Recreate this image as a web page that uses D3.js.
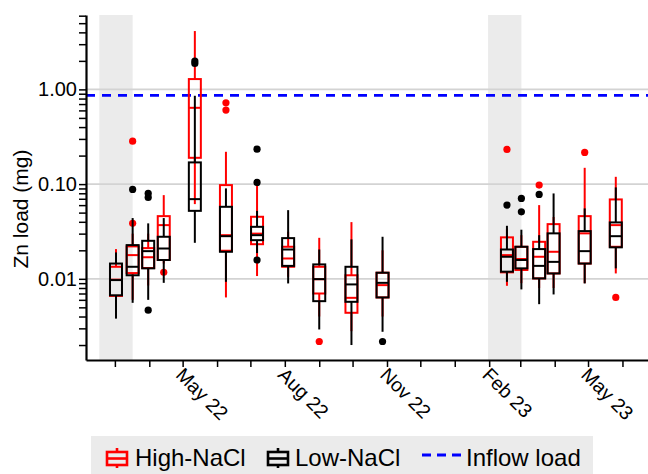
<!DOCTYPE html>
<html>
<head>
<meta charset="utf-8">
<script src="https://cdnjs.cloudflare.com/ajax/libs/d3/7.8.5/d3.min.js"></script>
<style>
  body { margin: 0; background: #fff; }
  svg { display: block; font-family: "Liberation Sans", Arial, sans-serif; }
</style>
</head>
<body>
<div id="chart"></div>
<script>
// sampling dates (one box pair per date)
var sampleDates = ["2022-03-02", "2022-03-17", "2022-03-31", "2022-04-14", "2022-05-12",
  "2022-06-09", "2022-07-07", "2022-08-04", "2022-09-01", "2022-09-30", "2022-10-28",
  "2023-02-17", "2023-03-02", "2023-03-18", "2023-03-31", "2023-04-28", "2023-05-26"];

// box stats per date: [whisker low, q1, median, q3, whisker high], Zn load in mg
var highStats = [
  [0.0040, 0.0066, 0.0098, 0.0134, 0.0206],
  [0.0060, 0.0115, 0.0178, 0.0220, 0.0300],
  [0.0085, 0.0130, 0.0169, 0.0211, 0.0300],
  [0.0145, 0.0158, 0.0369, 0.0459, 0.0765],
  [0.0615, 0.1895, 0.639, 1.285, 4.13],
  [0.00636, 0.0198, 0.0289, 0.0976, 0.2194],
  [0.0107, 0.0232, 0.0300, 0.0452, 0.0976],
  [0.0105, 0.0134, 0.0164, 0.0218, 0.0314],
  [0.0040, 0.0070, 0.0099, 0.0134, 0.0271],
  [0.0028, 0.00438, 0.0063, 0.0109, 0.0397],
  [0.0040, 0.00636, 0.00858, 0.0116, 0.0200],
  [0.00844, 0.0117, 0.0178, 0.0274, 0.0340],
  [0.0090, 0.0124, 0.0162, 0.0218, 0.0289],
  [0.0080, 0.0101, 0.0171, 0.0246, 0.0600],
  [0.0080, 0.0114, 0.0193, 0.0378, 0.0450],
  [0.0090, 0.0145, 0.0302, 0.0459, 0.1486],
  [0.0114, 0.0218, 0.0369, 0.0689, 0.1194]
];
var lowStats = [
  [0.0038, 0.0067, 0.0097, 0.0145, 0.0190],
  [0.00558, 0.0109, 0.0134, 0.0227, 0.0438],
  [0.0060, 0.0129, 0.0196, 0.0252, 0.0385],
  [0.00907, 0.0158, 0.0209, 0.0278, 0.0438],
  [0.0240, 0.0522, 0.0694, 0.1695, 0.856],
  [0.0093, 0.0193, 0.0282, 0.0576, 0.0901],
  [0.0187, 0.0256, 0.0289, 0.0354, 0.0522],
  [0.00894, 0.0137, 0.0204, 0.0269, 0.0531],
  [0.00292, 0.00581, 0.00993, 0.0142, 0.0204],
  [0.0020, 0.00572, 0.00873, 0.0134, 0.0261],
  [0.00276, 0.00636, 0.00907, 0.0116, 0.0278],
  [0.0093, 0.0119, 0.0171, 0.0204, 0.0363],
  [0.00773, 0.0129, 0.0158, 0.0218, 0.0330],
  [0.0054, 0.0101, 0.0137, 0.0206, 0.0289],
  [0.00684, 0.0114, 0.0151, 0.0302, 0.0797],
  [0.00894, 0.0145, 0.0196, 0.0319, 0.0554],
  [0.0129, 0.0215, 0.0282, 0.0394, 0.0923]
];

// outliers per date
var highOutliers = [[], [0.284, 0.0385], [], [0.0117], [], [0.722, 0.605], [], [], [0.00218],
  [], [], [0.2325], [], [0.0976], [], [0.2162], [0.00636]];
var lowOutliers = [[], [0.0879], [0.0797, 0.0724, 0.00467], [], [1.99, 1.88], [], [0.234, 0.1042, 0.0158],
  [], [], [], [0.00218], [0.060], [0.0706, 0.051], [0.0778], [], [], []];

var inflowLoad = 0.864;
var shadedPeriods = [["2022-02-15", "2022-03-17"], ["2023-01-31", "2023-03-02"]];
var gridValues = [0.01, 0.1, 1];
var labelledMonths = ["2022-05-01", "2022-08-01", "2022-11-01", "2023-02-01", "2023-05-01"];

var series = [
  {name: "High-NaCl", color: "#ff0000", stats: highStats, outliers: highOutliers},
  {name: "Low-NaCl", color: "#000000", stats: lowStats, outliers: lowOutliers}
];

var width = 648, height = 474;
var plotLeft = 86, plotRight = 648, plotTop = 15, plotBottom = 360;
var parseDate = d3.utcParse("%Y-%m-%d");

var svg = d3.select("#chart").append("svg")
  .attr("width", width).attr("height", height);

var x = d3.scaleUtc()
  .domain([parseDate("2022-02-03"), parseDate("2023-06-24")])
  .range([plotLeft, plotRight]);

var y = d3.scaleLog()
  .domain([0.00139, 6.1])
  .range([plotBottom, plotTop]);

// shaded winter periods
svg.append("g").selectAll("rect")
  .data(shadedPeriods).enter()
  .append("rect")
    .attr("x", function (d) { return x(parseDate(d[0])); })
    .attr("width", function (d) { return x(parseDate(d[1])) - x(parseDate(d[0])); })
    .attr("y", plotTop).attr("height", plotBottom - plotTop)
    .attr("fill", "#ebebeb");

// major grid lines
svg.append("g").selectAll("line")
  .data(gridValues).enter()
  .append("line")
    .attr("x1", plotLeft).attr("x2", plotRight)
    .attr("y1", function (d) { return y(d); })
    .attr("y2", function (d) { return y(d); })
    .attr("stroke", "#d3d3d3").attr("stroke-width", 1.6);

// inflow load reference
svg.append("line")
  .attr("x1", plotLeft).attr("x2", plotRight)
  .attr("y1", y(inflowLoad)).attr("y2", y(inflowLoad))
  .attr("stroke", "#0000ff").attr("stroke-width", 2.6)
  .attr("stroke-dasharray", "9,7");

// boxplots, red first then black on top
var bw = 12;
series.forEach(function (s) {
  var g = svg.append("g").attr("class", "series");
  var boxes = g.selectAll("g.box")
    .data(sampleDates.map(function (d, i) {
      return {date: parseDate(d), st: s.stats[i], out: s.outliers[i]};
    }))
    .enter().append("g")
      .attr("class", "box")
      .attr("transform", function (d) { return "translate(" + x(d.date) + ",0)"; });

  boxes.append("line")
    .attr("x1", 0).attr("x2", 0)
    .attr("y1", function (d) { return y(d.st[0]); })
    .attr("y2", function (d) { return y(d.st[1]); })
    .attr("stroke", s.color).attr("stroke-width", 2);
  boxes.append("line")
    .attr("x1", 0).attr("x2", 0)
    .attr("y1", function (d) { return y(d.st[3]); })
    .attr("y2", function (d) { return y(d.st[4]); })
    .attr("stroke", s.color).attr("stroke-width", 2);
  boxes.append("rect")
    .attr("x", -bw / 2).attr("width", bw)
    .attr("y", function (d) { return y(d.st[3]); })
    .attr("height", function (d) { return y(d.st[1]) - y(d.st[3]); })
    .attr("fill", "none").attr("stroke", s.color).attr("stroke-width", 2);
  boxes.append("line")
    .attr("x1", -bw / 2).attr("x2", bw / 2)
    .attr("y1", function (d) { return y(d.st[2]); })
    .attr("y2", function (d) { return y(d.st[2]); })
    .attr("stroke", s.color).attr("stroke-width", 2);
  boxes.selectAll("circle")
    .data(function (d) { return d.out; })
    .enter().append("circle")
      .attr("cx", 0)
      .attr("cy", function (v) { return y(v); })
      .attr("r", 3.6)
      .attr("fill", s.color);
});

// y axis with log minor ticks
var fmt = d3.format(".2f");
var yAxis = d3.axisLeft(y)
  .tickValues(y.ticks().filter(function (t) { return t >= 0.0015; }))
  .tickSize(7).tickSizeOuter(0)
  .tickFormat(function (t) { return gridValues.indexOf(t) >= 0 ? fmt(t) : ""; });
var yg = svg.append("g")
  .attr("transform", "translate(" + plotLeft + ",0)")
  .call(yAxis);
yg.select(".domain").attr("stroke-width", 2.2);
yg.selectAll(".tick line").attr("stroke-width", 1.5);
yg.selectAll(".tick text")
  .attr("x", -9)
  .attr("font-size", 20).attr("fill", "#000")
  .attr("font-family", "Liberation Sans, Arial, sans-serif");

// x axis with monthly ticks
var xAxis = d3.axisBottom(x)
  .ticks(d3.utcMonth.every(1))
  .tickSize(7).tickSizeOuter(0)
  .tickFormat("");
var xg = svg.append("g")
  .attr("transform", "translate(0," + plotBottom + ")")
  .call(xAxis);
xg.select(".domain").attr("stroke-width", 2.2);
xg.selectAll(".tick line").attr("stroke-width", 1.5);

var labelFmt = d3.utcFormat("%b %y");
svg.append("g").selectAll("text")
  .data(labelledMonths).enter()
  .append("text")
    .attr("transform", function (d) {
      return "translate(" + (x(parseDate(d)) - 8) + "," + (plotBottom + 16) + ") rotate(45)";
    })
    .attr("font-size", 19.5)
    .text(function (d) { return labelFmt(parseDate(d)); });

// y axis title
svg.append("text")
  .attr("transform", "translate(28,209) rotate(-90)")
  .attr("text-anchor", "middle")
  .attr("font-size", 21)
  .text("Zn load (mg)");

// legend
var legend = svg.append("g");
legend.append("rect")
  .attr("x", 91).attr("y", 436).attr("width", 502).attr("height", 40)
  .attr("fill", "#ebebeb");

function boxIcon(cx, color) {
  var ic = legend.append("g").attr("stroke", color).attr("stroke-width", 2.6).attr("fill", "none");
  ic.append("line").attr("x1", cx).attr("x2", cx).attr("y1", 448).attr("y2", 452);
  ic.append("line").attr("x1", cx).attr("x2", cx).attr("y1", 465).attr("y2", 468);
  ic.append("rect").attr("x", cx - 10).attr("y", 452).attr("width", 20).attr("height", 13);
  ic.append("line").attr("x1", cx - 10).attr("x2", cx + 10).attr("y1", 458.5).attr("y2", 458.5);
}
boxIcon(117, series[0].color);
boxIcon(278, series[1].color);
legend.append("line")
  .attr("x1", 422).attr("x2", 462).attr("y1", 455).attr("y2", 455)
  .attr("stroke", "#0000ff").attr("stroke-width", 2.8)
  .attr("stroke-dasharray", "9,6");

var legendText = [["High-NaCl", 135], ["Low-NaCl", 295], ["Inflow load", 466]];
legend.selectAll("text.lbl")
  .data(legendText).enter()
  .append("text")
    .attr("class", "lbl")
    .attr("x", function (d) { return d[1]; })
    .attr("y", 466)
    .attr("font-size", 24)
    .text(function (d) { return d[0]; });
</script>
</body>
</html>
